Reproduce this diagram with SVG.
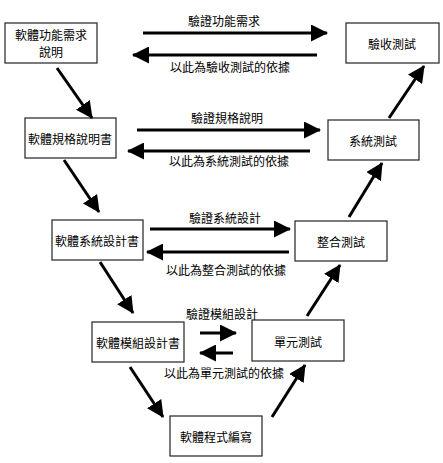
<svg xmlns="http://www.w3.org/2000/svg" width="443" height="463" viewBox="0 0 443 463">
<style>
.box{fill:#fff;stroke:#222;stroke-width:1.2}
text{font-family:"Noto Sans CJK TC","Noto Sans CJK SC",sans-serif;font-size:12px;fill:#000}
.c{text-anchor:middle;dominant-baseline:central}
.l{text-anchor:middle}
.ar{stroke:#000;stroke-width:3;fill:none;marker-end:url(#ah)}
</style>
<defs>
<marker id="ah" markerUnits="userSpaceOnUse" markerWidth="17" markerHeight="17" refX="16" refY="8.5" orient="auto">
<path d="M0,0 L17,8.5 L0,17 z" fill="#000"/>
</marker>
</defs>
<rect width="443" height="463" fill="#fff"/>
<g id="n1"><rect class="box" x="5" y="23" width="92" height="40"/><text class="c" x="51" y="34.5">軟體功能需求</text><text class="c" x="51" y="51.5">說明</text></g>
<g id="n2"><rect class="box" x="346" y="23" width="93" height="40"/><text class="c" x="392" y="43">驗收測試</text></g>
<g id="n3"><rect class="box" x="25" y="118" width="91" height="40"/><text class="c" x="70" y="138">軟體規格說明書</text></g>
<g id="n4"><rect class="box" x="328" y="120" width="91" height="40"/><text class="c" x="373" y="140">系統測試</text></g>
<g id="n5"><rect class="box" x="52" y="220" width="91" height="40"/><text class="c" x="97" y="240">軟體系統設計書</text></g>
<g id="n6"><rect class="box" x="295" y="221" width="92" height="40"/><text class="c" x="341" y="241">整合測試</text></g>
<g id="n7"><rect class="box" x="92" y="322" width="92" height="40"/><text class="c" x="138" y="342">軟體模組設計書</text></g>
<g id="n8"><rect class="box" x="252" y="320" width="92" height="41"/><text class="c" x="298" y="341">單元測試</text></g>
<g id="n9"><rect class="box" x="170" y="416" width="92" height="40"/><text class="c" x="216" y="436">軟體程式編寫</text></g>
<g id="connectors">
<line class="ar" x1="143" y1="33" x2="327" y2="33"/>
<line class="ar" x1="317" y1="55" x2="133" y2="55"/>
<text class="l" x="224" y="26">驗證功能需求</text>
<text class="l" x="230" y="72">以此為驗收測試的依據</text>
<line class="ar" x1="137" y1="130" x2="320" y2="130"/>
<line class="ar" x1="310" y1="151" x2="128" y2="151"/>
<text class="l" x="227" y="123">驗證規格說明</text>
<text class="l" x="229" y="166">以此為系統測試的依據</text>
<line class="ar" x1="150" y1="229" x2="290" y2="229"/>
<line class="ar" x1="289" y1="252" x2="147" y2="252"/>
<text class="l" x="225" y="223">驗證系統設計</text>
<text class="l" x="226" y="275">以此為整合測試的依據</text>
<line class="ar" x1="200" y1="333" x2="236" y2="333"/>
<line class="ar" x1="233" y1="353" x2="200" y2="353"/>
<text class="l" x="222" y="319">驗證模組設計</text>
<text class="l" x="224" y="378">以此為單元測試的依據</text>
<line class="ar" x1="57" y1="68" x2="92" y2="118"/>
<line class="ar" x1="64" y1="160" x2="99" y2="212"/>
<line class="ar" x1="100" y1="262" x2="133" y2="313"/>
<line class="ar" x1="130" y1="367" x2="163" y2="417"/>
<line class="ar" x1="272" y1="417" x2="305" y2="365"/>
<line class="ar" x1="307" y1="316" x2="340" y2="265"/>
<line class="ar" x1="349" y1="217" x2="382" y2="163"/>
<line class="ar" x1="389" y1="118" x2="424" y2="66"/>
</g>
</svg>
